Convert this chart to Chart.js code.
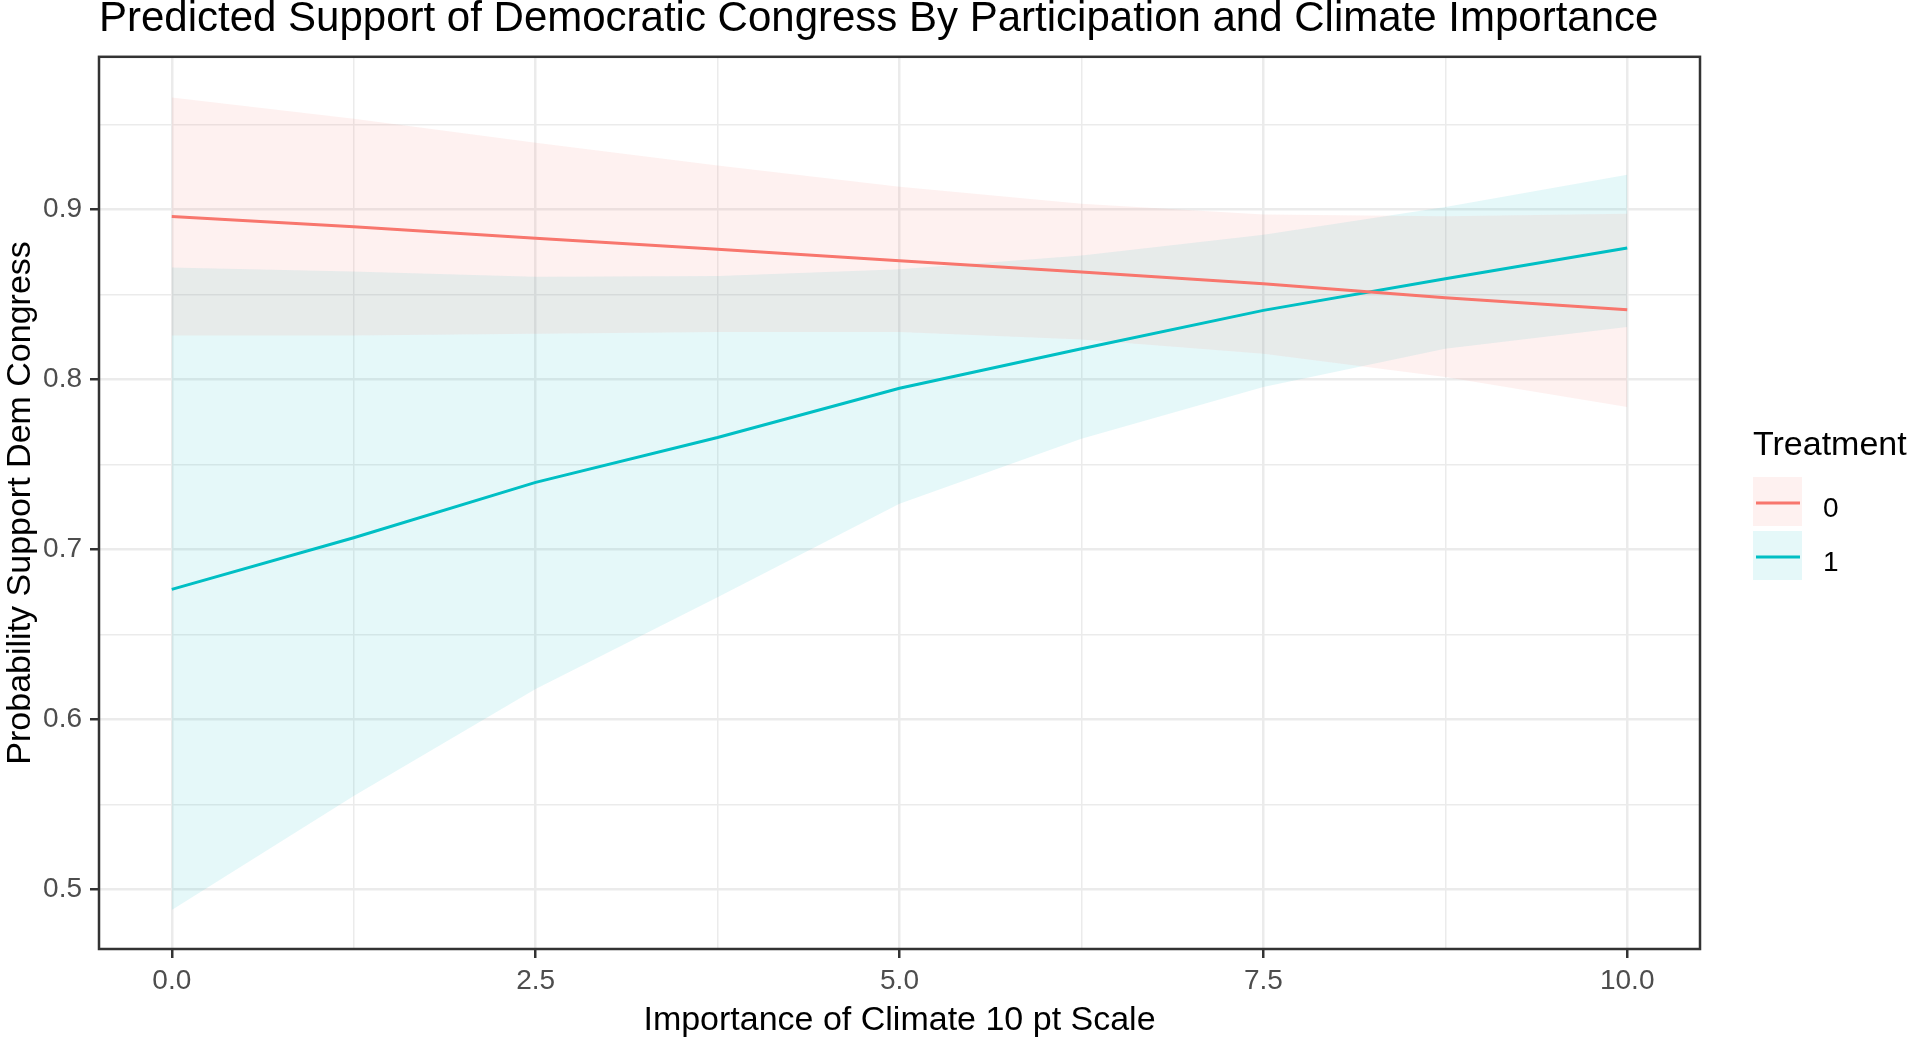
<!DOCTYPE html>
<html>
<head>
<meta charset="utf-8">
<script src="https://cdn.jsdelivr.net/npm/chart.js@4"></script>
<style>
  html, body { margin: 0; padding: 0; background: #fff; }
  #wrap { width: 1911px; height: 1041px; }
</style>
</head>
<body>
<div id="wrap"><canvas id="myChart"></canvas></div>
<script>
// values, x = importance of climate
const xValues = [0, 1.25, 2.5, 3.75, 5, 6.25, 7.5, 8.75, 10];

// treatment 0
const fit0   = [0.896, 0.890, 0.8833, 0.8768, 0.8700, 0.8633, 0.8565, 0.8482, 0.8412];
const upper0 = [0.966, 0.9535, 0.9394, 0.926, 0.9136, 0.9035, 0.8972, 0.8962, 0.8976];
const lower0 = [0.826, 0.826, 0.827, 0.828, 0.828, 0.8237, 0.8153, 0.8016, 0.7839];

// treatment 1
const fit1   = [0.6766, 0.707, 0.7396, 0.766, 0.795, 0.8182, 0.8408, 0.8594, 0.8775];
const upper1 = [0.866, 0.8636, 0.8606, 0.861, 0.865, 0.8731, 0.8853, 0.9016, 0.9206];
const lower1 = [0.488, 0.555, 0.618, 0.672, 0.727, 0.7653, 0.7957, 0.8182, 0.831];

const groups = ['0', '1'];

const xTicks = [0, 2.5, 5, 7.5, 10];
const xMinor = [1.25, 3.75, 6.25, 8.75];
const yTicks = [0.5, 0.6, 0.7, 0.8, 0.9];
const yMinor = [0.55, 0.65, 0.75, 0.85, 0.95];

const lineColors = ['#F8766D', '#00BFC4'];
const ribbonColors = ['rgba(248,118,109,0.1)', 'rgba(0,191,196,0.1)'];
const FONT = "'Liberation Sans', Arial, sans-serif";

function pts(ys) {
    return xValues.map((x, i) => ({ x: x, y: ys[i] }));
}
function isMajor(v, list) {
    return list.some(t => Math.abs(t - v) < 1e-9);
}

function ribbon(data, i, fill) {
    return {
        data: pts(data),
        borderWidth: 0,
        pointRadius: 0,
        backgroundColor: ribbonColors[i],
        fill: fill,
        tension: 0
    };
}
function fitLine(data, i) {
    return {
        label: groups[i],
        data: pts(data),
        borderColor: lineColors[i],
        borderWidth: 3,
        pointRadius: 0,
        fill: false,
        tension: 0
    };
}

// panel border + ggplot style legend
const panelAndLegend = {
    id: 'panelAndLegend',
    afterDraw(chart) {
        const ctx = chart.ctx;
        const a = chart.chartArea;
        ctx.save();
        ctx.strokeStyle = '#333333';
        ctx.lineWidth = 2.5;
        ctx.strokeRect(a.left, a.top, a.right - a.left, a.bottom - a.top);

        const lx = a.right + 53;
        ctx.fillStyle = '#000';
        ctx.font = '34px ' + FONT;
        ctx.textBaseline = 'alphabetic';
        ctx.fillText('Treatment', lx, 455);

        groups.forEach((g, i) => {
            const top = 477 + i * 54;
            ctx.fillStyle = ribbonColors[i];
            ctx.fillRect(lx, top, 49, 49);
            ctx.strokeStyle = lineColors[i];
            ctx.lineWidth = 3;
            ctx.beginPath();
            ctx.moveTo(lx + 3, top + 26);
            ctx.lineTo(lx + 47, top + 26);
            ctx.stroke();
            ctx.fillStyle = '#000';
            ctx.font = '28px ' + FONT;
            ctx.fillText(g, lx + 70, top + 40);
        });
        ctx.restore();
    }
};

const ctx = document.getElementById('myChart');

new Chart(ctx, {
    type: 'line',
    data: {
        datasets: [
            ribbon(upper0, 0, '+1'),
            ribbon(lower0, 0, false),
            ribbon(upper1, 1, '+1'),
            ribbon(lower1, 1, false),
            fitLine(fit0, 0),
            fitLine(fit1, 1)
        ]
    },
    options: {
        responsive: true,
        maintainAspectRatio: false,
        animation: false,
        layout: { padding: { left: 0, right: 211, top: 0, bottom: 0 } },
        plugins: {
            legend: { display: false },
            tooltip: { enabled: false },
            filler: { drawTime: 'beforeDatasetsDraw' },
            title: {
                display: true,
                text: 'Predicted Support of Democratic Congress By Participation and Climate Importance',
                align: 'start',
                fullSize: false,
                color: '#000',
                font: { family: FONT, size: 42, weight: 'normal', lineHeight: 0.9 },
                padding: { top: 1, bottom: 18 }
            }
        },
        scales: {
            x: {
                type: 'linear',
                min: -0.5,
                max: 10.5,
                afterBuildTicks: s => { s.ticks = xTicks.concat(xMinor).sort((p, q) => p - q).map(v => ({ value: v })); },
                afterFit: s => { s.height = 92; },
                border: { display: false },
                grid: {
                    color: '#EBEBEB',
                    lineWidth: c => isMajor(c.tick.value, xTicks) ? 2.5 : 1.5,
                    tickColor: c => isMajor(c.tick.value, xTicks) ? '#333333' : 'rgba(0,0,0,0)',
                    tickLength: 9,
                    tickWidth: 2.5
                },
                ticks: {
                    autoSkip: false,
                    maxRotation: 0,
                    padding: 6,
                    color: '#4D4D4D',
                    font: { family: FONT, size: 28 },
                    callback: v => isMajor(v, xTicks) ? v.toFixed(1) : ''
                },
                title: {
                    display: true,
                    text: 'Importance of Climate 10 pt Scale',
                    color: '#000',
                    font: { family: FONT, size: 34 },
                    padding: 0
                }
            },
            y: {
                min: 0.465,
                max: 0.990,
                afterBuildTicks: s => { s.ticks = yTicks.concat(yMinor).sort((p, q) => p - q).map(v => ({ value: v })); },
                afterFit: s => { s.width = 99; },
                border: { display: false },
                grid: {
                    color: '#EBEBEB',
                    lineWidth: c => isMajor(c.tick.value, yTicks) ? 2.5 : 1.5,
                    tickColor: c => isMajor(c.tick.value, yTicks) ? '#333333' : 'rgba(0,0,0,0)',
                    tickLength: 9,
                    tickWidth: 2.5
                },
                ticks: {
                    autoSkip: false,
                    padding: 8,
                    color: '#4D4D4D',
                    font: { family: FONT, size: 28 },
                    callback: v => isMajor(v, yTicks) ? v.toFixed(1) : ''
                },
                title: {
                    display: true,
                    text: 'Probability Support Dem Congress',
                    color: '#000',
                    font: { family: FONT, size: 34 },
                    padding: 0
                }
            }
        }
    },
    plugins: [panelAndLegend]
});
</script>
</body>
</html>
